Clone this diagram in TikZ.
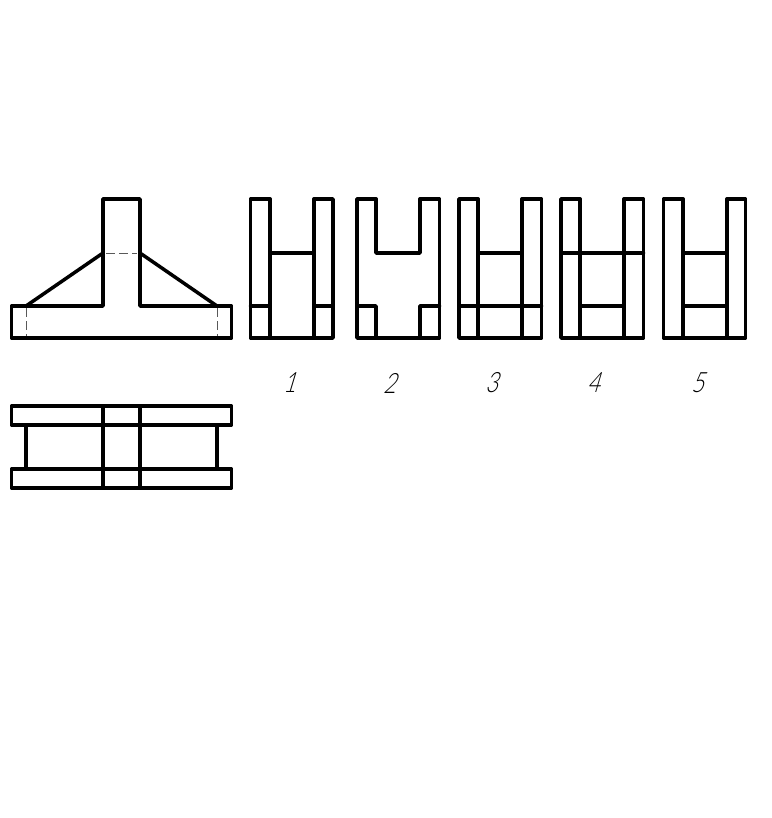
\documentclass[tikz,border=0pt]{standalone}
\usepackage{fontspec}
\newfontfamily\numfont[FakeSlant=0.3,FakeStretch=0.78]{Lato Light}
\begin{document}
\begin{tikzpicture}[x=1pt, y=-1pt, line join=round, line cap=round,
    main/.style={line width=3.5pt},
    hidden/.style={line width=1pt, black!65, dash pattern=on 9pt off 4pt, line cap=butt},
    num/.style={font=\numfont\fontsize{28}{28}\selectfont}]
  \useasboundingbox (0,0) rectangle (771,818);
  % front view
  \draw[main] (103,306) -- (103,199) -- (140,199) -- (140,306) -- (231.5,306) -- (231.5,338) -- (11.5,338) -- (11.5,306) -- cycle;
  \draw[main] (26,306) -- (103,253);
  \draw[main] (140,253) -- (217,306);
  \draw[hidden] (106,253) -- (137,253);
  \draw[hidden] (26,308) -- (26,336);
  \draw[hidden] (217,308) -- (217,336);
  % top view
  \draw[main] (11.5,406) rectangle (231.5,425);
  \draw[main] (11.5,469) rectangle (231.5,488);
  \draw[main] (103,406) -- (103,488);
  \draw[main] (140,406) -- (140,488);
  \draw[main] (26,425) -- (26,469);
  \draw[main] (217,425) -- (217,469);
  % answer 1
  \draw[main] (270,199) -- (250.5,199) -- (250.5,338) -- (333,338) -- (333,199) -- (314,199);
  \draw[main] (270,199) -- (270,338);
  \draw[main] (314,199) -- (314,338);
  \draw[main] (270,253) -- (314,253);
  \draw[main] (250.5,306) -- (270,306);
  \draw[main] (314,306) -- (333,306);
  \node[num] (num1) at (289.5,383) {1};
  % answer 2
  \draw[main] (376,199) -- (357,199) -- (357,338) -- (439.5,338) -- (439.5,199) -- (420,199);
  \draw[main] (376,199) -- (376,253) -- (420,253) -- (420,199);
  \draw[main] (357,306) -- (376,306) -- (376,338);
  \draw[main] (439.5,306) -- (420,306) -- (420,338);
  \node[num] (num2) at (389.5,383) {2};
  % answer 3
  \draw[main] (478,199) -- (459,199) -- (459,338) -- (541.5,338) -- (541.5,199) -- (522,199);
  \draw[main] (478,199) -- (478,338);
  \draw[main] (522,199) -- (522,338);
  \draw[main] (478,253) -- (522,253);
  \draw[main] (459,306) -- (541.5,306);
  \node[num] (num3) at (491.5,383) {3};
  % answer 4
  \draw[main] (580,199) -- (561,199) -- (561,338) -- (643.5,338) -- (643.5,199) -- (624,199);
  \draw[main] (580,199) -- (580,338);
  \draw[main] (624,199) -- (624,338);
  \draw[main] (561,253) -- (643.5,253);
  \draw[main] (580,306) -- (624,306);
  \node[num] (num4) at (593.5,383) {4};
  % answer 5
  \draw[main] (683,199) -- (663.5,199) -- (663.5,338) -- (745.5,338) -- (745.5,199) -- (727,199);
  \draw[main] (683,199) -- (683,338);
  \draw[main] (727,199) -- (727,338);
  \draw[main] (683,253) -- (727,253);
  \draw[main] (683,306) -- (727,306);
  \node[num] (num5) at (697.5,383) {5};
\end{tikzpicture}
\end{document}
